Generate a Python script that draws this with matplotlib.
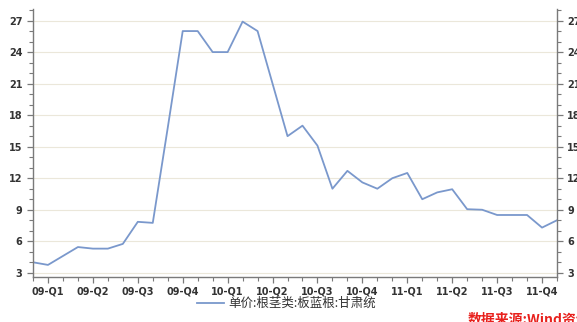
import matplotlib
matplotlib.use("Agg")
import matplotlib.pyplot as plt
from matplotlib.lines import Line2D
from matplotlib.ticker import MultipleLocator

plt.rcParams['font.family'] = ['DejaVu Sans', 'Noto Sans CJK SC']

# monthly price, index 0..35 (Dec 2008 .. Nov 2011)
months = list(range(36))
price = [4.0, 3.75, 4.6, 5.45, 5.3, 5.3, 5.75, 7.85, 7.75, 16.8,
         26.0, 26.0, 24.0, 24.0, 26.9, 26.0, 21.0, 16.0, 17.0, 15.1,
         11.0, 12.7, 11.6, 11.0, 12.0, 12.5, 10.0, 10.65, 10.95, 9.05,
         9.0, 8.5, 8.5, 8.5, 7.3, 8.0]
tick_pos = [1, 4, 7, 10, 13, 16, 19, 22, 25, 28, 31, 34]
tick_labels = ['09-Q1', '09-Q2', '09-Q3', '09-Q4', '10-Q1', '10-Q2',
               '10-Q3', '10-Q4', '11-Q1', '11-Q2', '11-Q3', '11-Q4']
y_ticks = [3, 6, 9, 12, 15, 18, 21, 24, 27]
legend_label = '单价:根茎类:板蓝根:甘肃统'
source = '数据来源:Wind资讯'

W, H = 577, 322
fig = plt.figure(figsize=(W / 100, H / 100), dpi=100)
ax = fig.add_axes([33 / W, 1 - 277 / H, (557 - 33) / W, (277 - 9) / H])

line_color = '#7a98cc'
ax.plot(months, price, color=line_color, lw=1.3)

ax.set_xlim(0, 35)
ax.set_ylim(2.6, 28.1)
ax.set_xticks(tick_pos)
ax.set_xticklabels(tick_labels)
ax.xaxis.set_minor_locator(MultipleLocator(1))
ax.set_yticks(y_ticks)
ax.yaxis.set_minor_locator(MultipleLocator(1))

ax.grid(axis='y', which='major', color='#ebe7da', lw=0.8)
ax.set_axisbelow(True)

spine_color = '#7a7a7a'
ax.spines['top'].set_visible(False)
for s in ['left', 'right', 'bottom']:
    ax.spines[s].set_color(spine_color)
    ax.spines[s].set_linewidth(1.0)

ax.tick_params(axis='both', which='both', color=spine_color, direction='out',
               labelsize=7, labelcolor='#333333')
ax.tick_params(axis='both', which='major', length=4, width=0.9)
ax.tick_params(axis='both', which='minor', length=3, width=0.8)
ax.tick_params(axis='y', which='both', left=True, right=True,
               labelleft=True, labelright=True)
ax.tick_params(axis='x', pad=3)
for t in ax.get_xticklabels() + ax.get_yticklabels():
    t.set_fontweight('bold')

# legend below the plot
fig.add_artist(Line2D([197 / W, 224 / W], [1 - 303 / H, 1 - 303 / H],
                      color=line_color, lw=1.3, transform=fig.transFigure))
fig.text(228 / W, 1 - 303 / H, legend_label, fontsize=9, color='#333333',
         va='center', ha='left', family=['Noto Sans CJK SC', 'DejaVu Sans'])

# source note, cut by the bottom edge
fig.text(468 / W, 1 - 312 / H, source, fontsize=10, color='#e8201c',
         va='top', ha='left', style='italic', fontweight='bold',
         family=['Noto Sans CJK SC', 'DejaVu Sans'])

fig.savefig('out.png', dpi=100)
